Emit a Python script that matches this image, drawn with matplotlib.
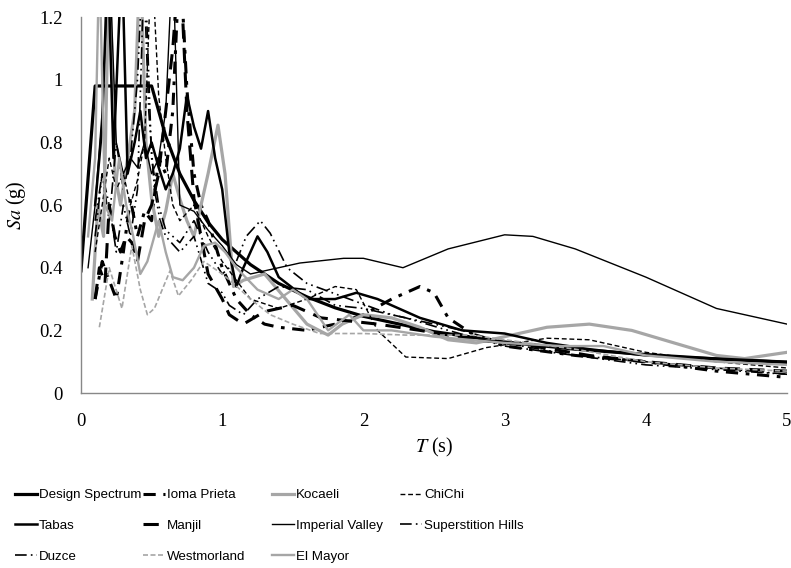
import matplotlib

matplotlib.use("Agg")
import matplotlib.pyplot as plt

plt.rcParams["font.family"] = "Liberation Serif"
plt.rcParams["mathtext.fontset"] = "stix"

GRAY = "#a6a6a6"

# Sa (g) at the listed periods T (s)
design_t = [0, 0.1, 0.5, 0.6, 0.7, 0.8, 0.9, 1.0, 1.2, 1.4, 1.6, 1.8, 2.0, 2.5, 3.0, 3.5, 4.0, 4.5, 5.0]
design_sa = [0.39, 0.98, 0.98, 0.82, 0.70, 0.615, 0.545, 0.49, 0.41, 0.35, 0.307, 0.272, 0.245, 0.196,
             0.163, 0.14, 0.123, 0.109, 0.098]

loma_t = [0.1, 0.15, 0.2, 0.25, 0.3, 0.35, 0.4, 0.45, 0.5, 0.55, 0.6, 0.65, 0.7, 0.75, 0.8, 0.85, 0.9,
          1.0, 1.1, 1.2, 1.3, 1.4, 1.6, 1.8, 2.0, 2.2, 2.4, 2.5, 2.6, 2.8, 3.0, 3.5, 4.0, 4.5, 5.0]
loma_sa = [0.3, 0.42, 0.36, 0.3, 0.45, 0.62, 0.5, 0.58, 0.55, 0.75, 0.7, 0.9, 1.4, 0.97, 0.7, 0.6, 0.55,
           0.4, 0.3, 0.25, 0.22, 0.21, 0.2, 0.22, 0.25, 0.3, 0.34, 0.32, 0.24, 0.18, 0.15, 0.12, 0.1, 0.07, 0.05]

kocaeli_t = [0.08, 0.12, 0.16, 0.2, 0.24, 0.28, 0.33, 0.38, 0.42, 0.46, 0.5, 0.55, 0.6, 0.65, 0.7, 0.75,
             0.8, 0.85, 0.9, 0.97, 1.02, 1.08, 1.15, 1.3, 1.45, 1.6, 1.75, 1.85, 2.0, 2.2, 2.4, 2.6, 2.8,
             3.0, 3.3, 3.6, 3.9, 4.2, 4.5, 4.7, 5.0]
kocaeli_sa = [0.3, 0.6, 0.5, 1.4, 0.7, 0.6, 0.75, 0.9, 1.4, 0.8, 0.62, 0.5, 0.58, 0.7, 0.62, 0.55,
              0.5, 0.6, 0.7, 0.855, 0.7, 0.34, 0.36, 0.38, 0.3, 0.22, 0.185, 0.22, 0.25, 0.24, 0.21, 0.17, 0.16,
              0.18, 0.21, 0.22, 0.2, 0.16, 0.12, 0.11, 0.13]

chichi_t = [0.1, 0.15, 0.2, 0.25, 0.3, 0.35, 0.4, 0.45, 0.5, 0.55, 0.6, 0.65, 0.7, 0.8, 0.9, 1.0, 1.1, 1.2,
            1.4, 1.6, 1.8, 1.95, 2.1, 2.3, 2.6, 2.87, 3.3, 3.6, 4.0, 4.5, 5.0]
chichi_sa = [0.45, 0.6, 0.75, 0.65, 0.7, 0.6, 0.68, 0.8, 1.4, 0.95, 0.75, 0.6, 0.55, 0.6, 0.5, 0.42, 0.36, 0.3,
             0.27, 0.3, 0.34, 0.33, 0.2, 0.115, 0.11, 0.145, 0.175, 0.17, 0.13, 0.1, 0.08]

tabas_t = [0.1, 0.15, 0.19, 0.23, 0.29, 0.33, 0.38, 0.42, 0.46, 0.5, 0.55, 0.6, 0.65, 0.7, 0.75, 0.8, 0.85,
           0.9, 0.95, 1.0, 1.05, 1.1, 1.15, 1.25, 1.32, 1.4, 1.6, 1.8, 1.95, 2.1, 2.4, 2.7, 3.0, 3.3, 3.6,
           4.0, 4.5, 5.0]
tabas_sa = [0.6, 0.85, 1.4, 0.75, 1.4, 0.7, 0.8, 0.9, 0.75, 0.8, 0.72, 0.65, 0.7, 0.78, 0.95, 0.85, 0.78,
            0.9, 0.75, 0.65, 0.45, 0.34, 0.4, 0.5, 0.45, 0.37, 0.3, 0.3, 0.32, 0.3, 0.24, 0.2, 0.19, 0.16, 0.14,
            0.12, 0.11, 0.1]

manjil_t = [0.1, 0.13, 0.17, 0.2, 0.24, 0.28, 0.32, 0.36, 0.4, 0.45, 0.5, 0.55, 0.6, 0.65, 0.7, 0.75, 0.8,
            0.85, 0.9, 1.0, 1.05, 1.15, 1.3, 1.5, 1.7, 1.9, 2.1, 2.4, 2.8, 3.2, 3.6, 4.0, 4.5, 5.0]
manjil_sa = [0.3, 0.4, 0.35, 0.6, 0.5, 0.45, 0.5, 0.48, 0.42, 0.55, 0.6, 0.7, 0.9, 1.1, 1.4, 0.9, 0.62,
             0.5, 0.38, 0.3, 0.25, 0.22, 0.26, 0.28, 0.24, 0.23, 0.22, 0.2, 0.17, 0.15, 0.12, 0.1, 0.08, 0.07]

imperial_t = [0.05, 0.1, 0.15, 0.2, 0.25, 0.3, 0.35, 0.4, 0.45, 0.5, 0.55, 0.6, 0.65, 0.7, 0.8, 0.9, 1.0,
              1.1, 1.2, 1.3, 1.55, 1.86, 2.0, 2.28, 2.6, 3.0, 3.2, 3.5, 4.0, 4.5, 5.0]
imperial_sa = [0.4, 0.6, 0.9, 1.4, 0.8, 0.7, 0.75, 0.72, 0.8, 0.7, 0.75, 0.9, 1.4, 0.6, 0.58, 0.52, 0.47,
               0.41, 0.38, 0.39, 0.415, 0.43, 0.43, 0.40, 0.46, 0.505, 0.50, 0.46, 0.37, 0.27, 0.22]

superstition_t = [0.1, 0.15, 0.2, 0.25, 0.3, 0.35, 0.4, 0.45, 0.5, 0.55, 0.6, 0.7, 0.8, 0.9, 1.0, 1.1,
                  1.17, 1.27, 1.34, 1.46, 1.6, 1.9, 2.2, 2.5, 2.7, 3.0, 3.5, 4.0, 4.5, 5.0]
superstition_sa = [0.55, 0.7, 0.6, 0.45, 0.6, 0.5, 0.65, 1.4, 0.75, 0.6, 0.52, 0.48, 0.55, 0.45, 0.38, 0.42,
                   0.5, 0.55, 0.51, 0.4, 0.35, 0.3, 0.25, 0.22, 0.2, 0.16, 0.12, 0.1, 0.08, 0.06]

duzce_t = [0.1, 0.15, 0.2, 0.25, 0.3, 0.35, 0.4, 0.44, 0.48, 0.52, 0.56, 0.6, 0.7, 0.8, 0.9, 1.0, 1.05,
           1.15, 1.25, 1.4, 1.6, 1.8, 2.0, 2.3, 2.6, 3.0, 3.5, 4.0, 4.5, 5.0]
duzce_sa = [0.5, 0.7, 0.55, 0.8, 0.65, 0.75, 1.0, 1.4, 0.9, 0.65, 0.55, 0.5, 0.45, 0.5, 0.35, 0.32, 0.28,
            0.25, 0.3, 0.34, 0.33, 0.28, 0.27, 0.24, 0.2, 0.15, 0.12, 0.09, 0.075, 0.06]

westmorland_t = [0.13, 0.2, 0.29, 0.36, 0.42, 0.47, 0.52, 0.63, 0.69, 0.78, 0.87, 1.0, 1.08, 1.2, 1.34,
                 1.5, 1.69, 2.0, 2.3, 2.77, 3.0, 3.5, 4.0, 4.5, 5.0]
westmorland_sa = [0.21, 0.4, 0.27, 0.47, 0.33, 0.25, 0.27, 0.39, 0.31, 0.36, 0.42, 0.38, 0.35, 0.3, 0.25,
                  0.22, 0.19, 0.19, 0.185, 0.185, 0.17, 0.14, 0.1, 0.08, 0.07]

elmayor_t = [0.05, 0.1, 0.13, 0.17, 0.22, 0.27, 0.32, 0.37, 0.42, 0.47, 0.55, 0.6, 0.65, 0.72, 0.8, 0.87,
             0.95, 1.02, 1.1, 1.25, 1.4, 1.5, 1.6, 1.75, 1.9, 2.0, 2.2, 2.5, 3.0, 3.4, 3.7, 4.0, 4.5, 5.0]
elmayor_sa = [0.5, 0.75, 1.4, 0.6, 0.55, 0.75, 0.6, 0.5, 0.38, 0.42, 0.55, 0.45, 0.37, 0.36, 0.4, 0.47,
              0.48, 0.45, 0.4, 0.33, 0.3, 0.33, 0.3, 0.2, 0.25, 0.2, 0.2, 0.18, 0.16, 0.15, 0.15, 0.12, 0.1, 0.09]

# label, T, Sa, color, linewidth, dashes (None = solid)
series = [
    ("Design Spectrum", design_t, design_sa, "black", 2.3, None),
    ("Ioma Prieta", loma_t, loma_sa, "black", 2.2, (4, 2.5, 1.2, 2.5)),
    ("Kocaeli", kocaeli_t, kocaeli_sa, GRAY, 2.3, None),
    ("ChiChi", chichi_t, chichi_sa, "black", 1.0, (3.5, 2)),
    ("Tabas", tabas_t, tabas_sa, "black", 1.8, None),
    ("Manjil", manjil_t, manjil_sa, "black", 2.2, (5, 3)),
    ("Imperial Valley", imperial_t, imperial_sa, "black", 1.0, None),
    ("Superstition Hills", superstition_t, superstition_sa, "black", 1.2, (7, 2.5, 1, 2.5, 1, 2.5)),
    ("Duzce", duzce_t, duzce_sa, "black", 1.2, (7, 2.5, 1, 2.5, 1, 2.5)),
    ("Westmorland", westmorland_t, westmorland_sa, GRAY, 1.2, (3, 1.5)),
    ("El Mayor", elmayor_t, elmayor_sa, GRAY, 1.7, None),
]

fig = plt.figure(figsize=(7.91, 5.68), dpi=100)
ax = fig.add_axes([0.1024, 0.308, 0.8926, 0.662])

handles = []
for label, t, sa, color, lw, dashes in series:
    kw = {"color": color, "linewidth": lw}
    if dashes is not None:
        kw["linestyle"] = (0, dashes)
    line, = ax.plot(t, sa, label=label, **kw)
    handles.append(line)

ax.set_xlim(0, 5)
ax.set_ylim(0, 1.2)
ax.set_xticks([0, 1, 2, 3, 4, 5])
ax.set_yticks([0, 0.2, 0.4, 0.6, 0.8, 1.0, 1.2])
ax.set_yticklabels(["0", "0.2", "0.4", "0.6", "0.8", "1", "1.2"])
ax.tick_params(length=0, labelsize=13.5)
ax.tick_params(axis="x", pad=14)
ax.tick_params(axis="y", pad=13)
for side in ["top", "right"]:
    ax.spines[side].set_visible(False)
for side in ["left", "bottom"]:
    ax.spines[side].set_color("#888888")
    ax.spines[side].set_linewidth(1.0)

ax.set_xlabel(r"$T$ (s)", fontsize=14.5, labelpad=5)
ax.set_ylabel(r"$Sa$ (g)", fontsize=14.5, labelpad=8)

# legend laid out as four fixed-width columns, filled row by row
col_x = [0.019, 0.181, 0.344, 0.506]
for c in range(4):
    idx = list(range(c, len(series), 4))
    fig.legend([handles[i] for i in idx], [series[i][0] for i in idx],
               loc="upper left", bbox_to_anchor=(col_x[c], 0.139), frameon=False,
               prop={"family": "Liberation Sans", "size": 9.6}, handlelength=1.65,
               handletextpad=0.15, labelspacing=1.37, borderpad=0, borderaxespad=0)

fig.savefig("out.png", dpi=100)
